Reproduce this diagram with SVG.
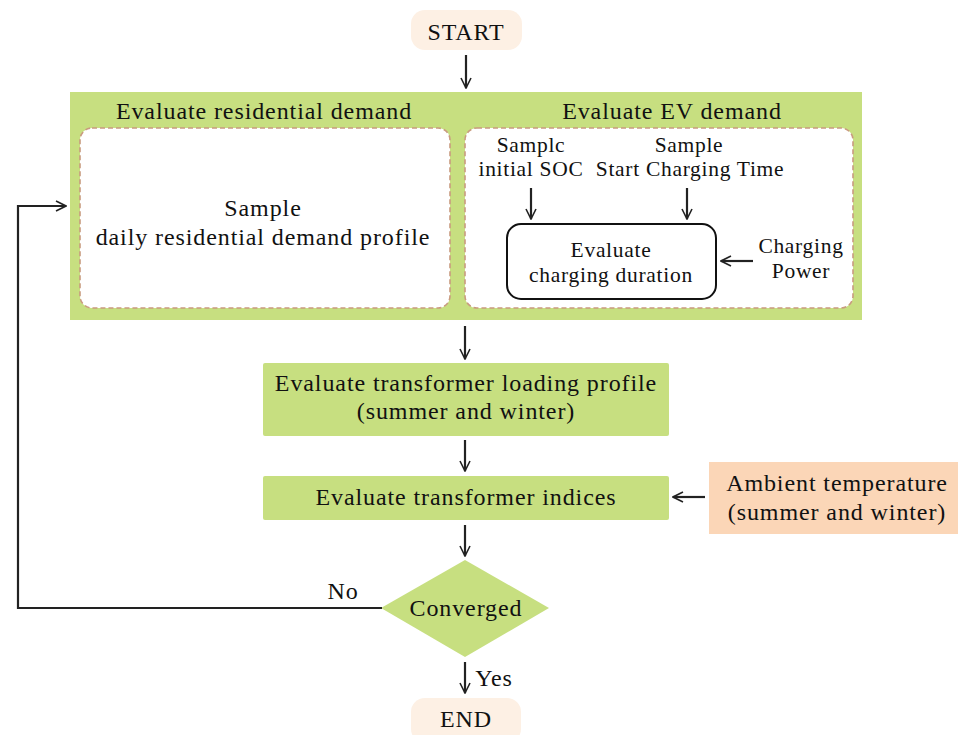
<svg xmlns="http://www.w3.org/2000/svg" width="958" height="735" viewBox="0 0 958 735">
<defs>
<marker id="ah" viewBox="0 0 12 12" refX="11" refY="6" markerWidth="12" markerHeight="12" markerUnits="userSpaceOnUse" orient="auto">
<path d="M1,1 L11,6 L1,11" fill="none" stroke="#222" stroke-width="1.6"/>
</marker>
<style>
text{font-family:"Liberation Serif","DejaVu Serif",serif;font-size:24px;letter-spacing:0.9px;fill:#111;text-anchor:middle}
text.s{font-size:21.5px;letter-spacing:0.7px}
.green{fill:#c7df80}
.peach{fill:#fdf0e4}
.orange{fill:#fbd6b7}
.dash{fill:#fff;stroke:#c99b7f;stroke-width:1.6;stroke-dasharray:5 3}
.conn{fill:none;stroke:#222;stroke-width:2.2;marker-end:url(#ah)}
</style>
</defs>
<g id="start"><rect class="peach" x="411" y="10" width="111" height="40" rx="14"/><text x="466" y="40">START</text></g>
<g id="outer"><rect class="green" x="70" y="92" width="792" height="228"/>
<text x="264" y="119">Evaluate residential demand</text>
<text x="672" y="119">Evaluate EV demand</text></g>
<g id="residential"><rect class="dash" x="80" y="128" width="370" height="180" rx="12"/>
<text x="263" y="216">Sample</text><text x="263" y="245">daily residential demand profile</text></g>
<g id="ev"><rect class="dash" x="465" y="128" width="388" height="180" rx="12"/></g>
<g id="soc"><text class="s" x="531" y="152">Samplc</text><text class="s" x="531" y="176">initial SOC</text></g>
<g id="sct"><text class="s" x="689" y="152">Sample</text><text class="s" x="690" y="176">Start Charging Time</text></g>
<g id="duration"><rect x="507" y="224" width="209" height="75" rx="14" fill="#fff" stroke="#111" stroke-width="2"/>
<text class="s" x="611" y="257">Evaluate</text><text class="s" x="611" y="282">charging duration</text></g>
<g id="power"><text class="s" x="801" y="253">Charging</text><text class="s" x="801" y="278">Power</text></g>
<g id="loading"><rect class="green" x="263" y="363" width="406" height="73" rx="2"/>
<text x="466" y="391">Evaluate transformer loading profile</text><text x="466" y="419">(summer and winter)</text></g>
<g id="indices"><rect class="green" x="263" y="476" width="406" height="44" rx="2"/>
<text x="466" y="505">Evaluate transformer indices</text></g>
<g id="ambient"><rect class="orange" x="709" y="462" width="249" height="72"/>
<text x="837" y="491">Ambient temperature</text><text x="837" y="520">(summer and winter)</text></g>
<g id="converged"><path class="green" d="M465,560 L549,608 L465,657 L381,608 Z"/>
<text x="466" y="616">Converged</text></g>
<g id="end"><rect class="peach" x="411" y="698" width="110" height="45" rx="14"/><text x="466" y="727">END</text></g>
<g id="connectors">
<line class="conn" x1="466" y1="55" x2="466" y2="88"/>
<line class="conn" x1="531" y1="188" x2="531" y2="219"/>
<line class="conn" x1="687" y1="188" x2="687" y2="219"/>
<line class="conn" x1="753" y1="261" x2="721" y2="261"/>
<line class="conn" x1="465" y1="326" x2="465" y2="359"/>
<line class="conn" x1="465" y1="440" x2="465" y2="471"/>
<line class="conn" x1="705" y1="497" x2="673" y2="497"/>
<line class="conn" x1="465" y1="525" x2="465" y2="556"/>
<polyline class="conn" points="382,608 18,608 18,206 66,206"/>
<line class="conn" x1="465" y1="662" x2="465" y2="693"/>
<text x="343" y="599">No</text>
<text x="494" y="686">Yes</text>
</g>
</svg>
